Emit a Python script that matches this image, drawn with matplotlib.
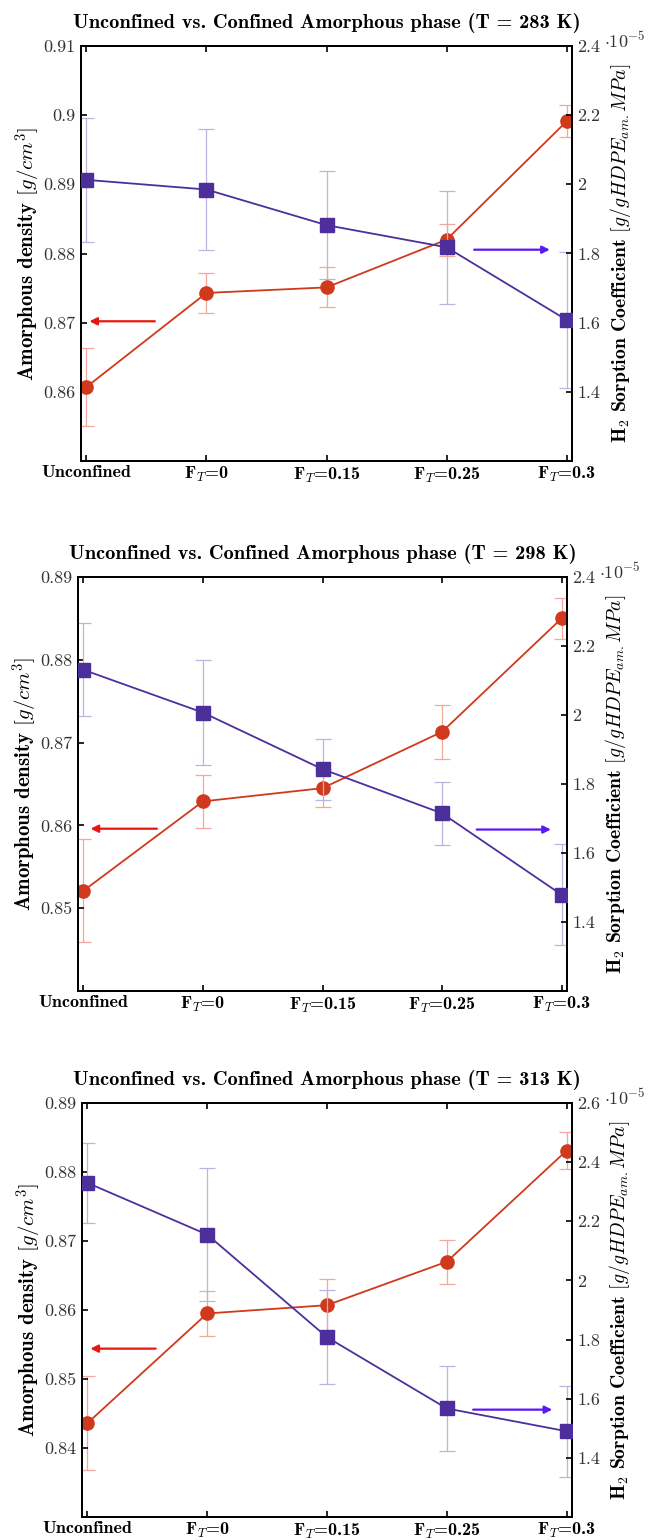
#!/usr/bin/env python3
# -*- coding: utf-8 -*-
"""
Amorphous density and H2 sorption coefficient, unconfined vs. confined,
at three temperatures (two y axes per panel).
"""

import numpy as np
import matplotlib
matplotlib.use('Agg')
import matplotlib.pyplot as plt

plt.rcParams['mathtext.fontset'] = 'cm'
plt.rcParams['axes.unicode_minus'] = False

# confinement cases on the x axis
categories = ['Unconfined', r'F$_T$=0', r'F$_T$=0.15', r'F$_T$=0.25', r'F$_T$=0.3']
temperatures = [283, 298, 313]

# amorphous density [g/cm^3] with error bars
density_283 = [0.8607, 0.8743, 0.8751, 0.8820, 0.8991]
density_err_283 = [0.0057, 0.0029, 0.0029, 0.0023, 0.0023]
density_298 = [0.8521, 0.8629, 0.8645, 0.8713, 0.8850]
density_err_298 = [0.0062, 0.0032, 0.0023, 0.0033, 0.0025]
density_313 = [0.8436, 0.8595, 0.8607, 0.8670, 0.8831]
density_err_313 = [0.0068, 0.0032, 0.0038, 0.0032, 0.0027]

# H2 sorption coefficient, in units of 1e-5 g/(g HDPE_am MPa)
sorption_283 = [2.013, 1.985, 1.882, 1.818, 1.608]
sorption_err_283 = [0.179, 0.176, 0.157, 0.163, 0.196]
sorption_298 = [2.131, 2.007, 1.843, 1.715, 1.479]
sorption_err_298 = [0.135, 0.153, 0.088, 0.092, 0.147]
sorption_313 = [2.330, 2.155, 1.808, 1.567, 1.490]
sorption_err_313 = [0.135, 0.225, 0.158, 0.143, 0.154]

# axis ticks per panel
density_ticks_283 = [0.86, 0.87, 0.88, 0.89, 0.90, 0.91]
density_ticks_298 = [0.85, 0.86, 0.87, 0.88, 0.89]
density_ticks_313 = [0.84, 0.85, 0.86, 0.87, 0.88, 0.89]
sorption_ticks_283 = [1.4, 1.6, 1.8, 2.0, 2.2, 2.4]
sorption_ticks_298 = [1.4, 1.6, 1.8, 2.0, 2.2, 2.4]
sorption_ticks_313 = [1.4, 1.6, 1.8, 2.0, 2.2, 2.4, 2.6]

RED = '#d0391c'
RED_ERR = '#f2a89e'
RED_ARROW = '#e8170f'
BLUE = '#4d2f9c'
BLUE_ERR = '#bcb4df'
BLUE_ARROW = '#5c17f5'

TICK_FONT = dict(family='cmr10', size=13, color='#333333')
BOLD_FONT = 'cmb10'
LABEL_SIZE = 15


def fmt(v):
    return f'{v:g}'


def draw_panel(fig, rect, temp, dens, dens_err, sorp, sorp_err,
               dens_ticks, sorp_ticks, dens_lim, sorp_lim,
               red_arrow, blue_arrow):
    x = np.arange(1, len(categories) + 1)

    ax = fig.add_axes(rect)
    ax.errorbar(x, dens, yerr=dens_err, fmt='none', ecolor=RED_ERR,
                elinewidth=0.9, capsize=6, capthick=0.9, zorder=1)
    ax.plot(x, dens, '-o', color=RED, lw=1.3, ms=9.5, zorder=3)
    ax.set_xlim(0.955, 5.045)
    ax.set_ylim(*dens_lim)
    ax.set_yticks(dens_ticks)
    ax.set_yticklabels([fmt(v) for v in dens_ticks], fontdict=TICK_FONT)
    ax.set_xticks(x)
    ax.set_xticklabels(categories, family=BOLD_FONT, size=13)
    ax.tick_params(axis='x', direction='in', length=4, width=1.2,
                   top=True, pad=3)
    ax.tick_params(axis='y', direction='in', length=4, width=1.2, pad=4)
    ax.set_ylabel(r'Amorphous density $[g/cm^3]$', family=BOLD_FONT,
                  size=LABEL_SIZE, labelpad=0)
    ax.set_title(f'Unconfined vs. Confined Amorphous phase (T = {temp} K)',
                 family=BOLD_FONT, size=LABEL_SIZE - 0.3, pad=13)
    for s in ax.spines.values():
        s.set_linewidth(1.4)
    ax.annotate('', xy=(red_arrow[1], red_arrow[2]),
                xytext=(red_arrow[0], red_arrow[2]),
                arrowprops=dict(arrowstyle='-|>', color=RED_ARROW, lw=1.6,
                                mutation_scale=11, shrinkA=0, shrinkB=0))

    ax2 = ax.twinx()
    ax2.errorbar(x, sorp, yerr=sorp_err, fmt='none', ecolor=BLUE_ERR,
                 elinewidth=0.9, capsize=6, capthick=0.9, zorder=1)
    ax2.plot(x, sorp, '-s', color=BLUE, lw=1.3, ms=9.5, zorder=3)
    ax2.set_ylim(*sorp_lim)
    ax2.set_yticks(sorp_ticks)
    ax2.set_yticklabels([fmt(v) for v in sorp_ticks], fontdict=TICK_FONT)
    ax2.tick_params(axis='y', direction='in', length=4, width=1.2, pad=4)
    ax2.set_ylabel(r'H$_2$ Sorption Coefficient $[g/gHDPE_{am.}MPa]$',
                   family=BOLD_FONT, size=LABEL_SIZE - 0.8, rotation=90,
                   labelpad=5)
    ax2.text(1.066, 1.012, r'$\cdot 10^{-5}$', transform=ax2.transAxes,
             fontsize=13, color='#333333', ha='left', va='center')
    for s in ax2.spines.values():
        s.set_linewidth(1.4)
    ax2.annotate('', xy=(blue_arrow[1], blue_arrow[2]),
                 xytext=(blue_arrow[0], blue_arrow[2]),
                 arrowprops=dict(arrowstyle='-|>', color=BLUE_ARROW, lw=1.6,
                                 mutation_scale=11, shrinkA=0, shrinkB=0))
    return ax, ax2


def main():
    W, H = 649, 1540
    fig = plt.figure(figsize=(W / 100, H / 100), dpi=100)

    def rect(l, r, t, b):
        return [l / W, 1 - b / H, (r - l) / W, (b - t) / H]

    draw_panel(fig, rect(81, 572, 46, 461), temperatures[0],
               density_283, density_err_283, sorption_283, sorption_err_283,
               density_ticks_283, sorption_ticks_283, (0.85, 0.91), (1.2, 2.4),
               red_arrow=(1.57, 1.025, 0.8702), blue_arrow=(4.23, 4.86, 1.811))
    draw_panel(fig, rect(78, 567, 577, 991), temperatures[1],
               density_298, density_err_298, sorption_298, sorption_err_298,
               density_ticks_298, sorption_ticks_298, (0.84, 0.89), (1.2, 2.4),
               red_arrow=(1.615, 1.06, 0.8596), blue_arrow=(4.29, 4.91, 1.668))
    draw_panel(fig, rect(82, 572, 1103, 1517), temperatures[2],
               density_313, density_err_313, sorption_313, sorption_err_313,
               density_ticks_313, sorption_ticks_313, (0.83, 0.89), (1.2, 2.6),
               red_arrow=(1.57, 1.025, 0.8544), blue_arrow=(4.22, 4.88, 1.563))

    fig.savefig('out.png', dpi=100)
    plt.close(fig)


if __name__ == '__main__':
    main()
